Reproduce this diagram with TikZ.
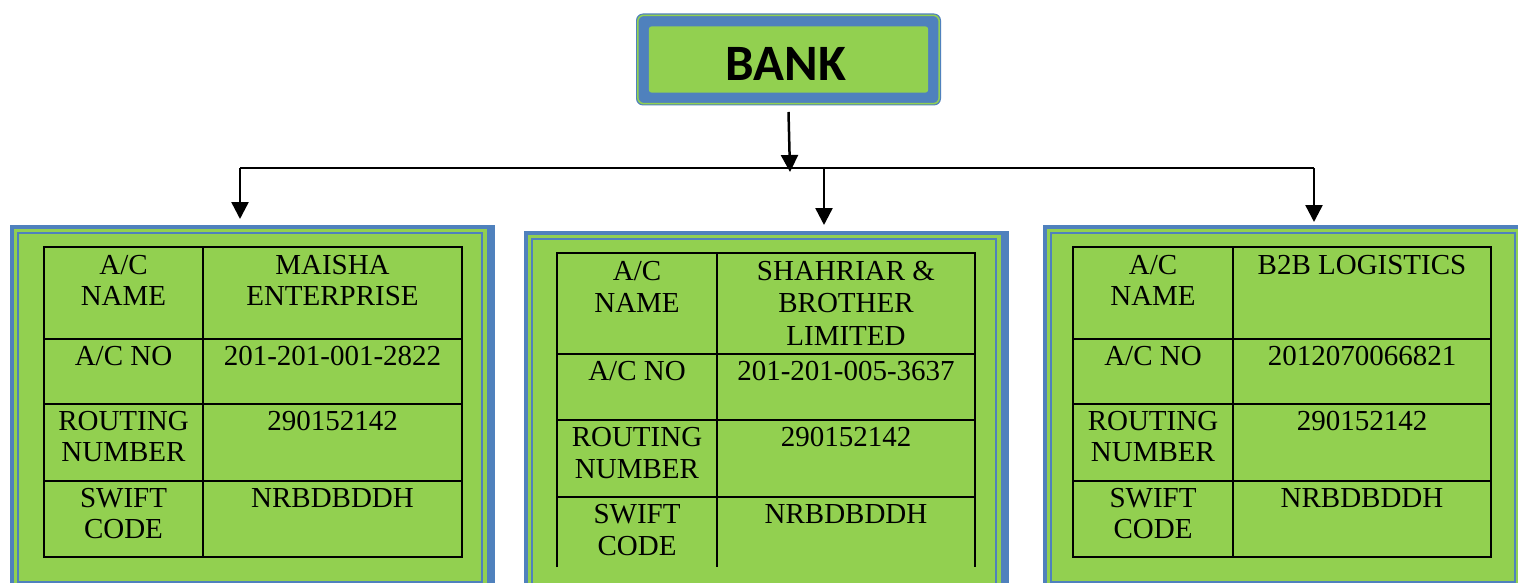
\documentclass[tikz,border=0pt]{standalone}
\usepackage{fontspec}
\setmainfont{Liberation Serif}
\newfontfamily\bankfont{Carlito}
\usetikzlibrary{arrows.meta,calc}
\definecolor{pgreen}{RGB}{146,208,80}
\definecolor{pblue}{RGB}{79,129,189}
\begin{document}
\begin{tikzpicture}[x=1pt,y=-1pt,
  panel/.style={fill=pblue,draw=none,inner sep=0,anchor=north west},
  grid/.style={line width=2.5pt,black},
  cell/.style={font=\fontsize{29}{31}\selectfont,align=center,inner sep=0,anchor=north},
  cellm/.style={cell,font=\fontsize{29}{32.5}\selectfont},
  arr/.style={line width=2.5pt,-{Triangle[width=17pt,length=17pt]}},
  link/.style={line width=2.5pt}]
\useasboundingbox (0,0) rectangle (1518,583);
\clip (0,0) rectangle (1518,583);
\fill[white] (0,0) rectangle (1518,583);

% BANK box
\node[fill=pblue,rounded corners=7pt,minimum width=305pt,minimum height=92pt,inner sep=0] (bank) at (788.5,59.5) {};
\draw[pgreen,line width=1.5pt,rounded corners=6pt] ($(bank.north west)+(2,2)$) rectangle ($(bank.south east)+(-2,-2)$);
\fill[pgreen,rounded corners=3pt] ($(bank.north west)+(13,13)$) rectangle ($(bank.south east)+(-13,-13)$);
\node[font=\bankfont\bfseries\fontsize{51}{51}\selectfont,inner sep=0] (banktext) at (786,64) {BANK};

% panels
\node[panel,minimum width=485pt,minimum height=370pt] (box1) at (10,225) {};
\node[panel,minimum width=485pt,minimum height=370pt] (box2) at (524,231) {};
\node[panel,minimum width=485pt,minimum height=370pt] (box3) at (1043,225) {};
\foreach \b in {box1,box2,box3}{
  \fill[pgreen] ($(\b.north west)+(4,4)$) rectangle ($(\b.south east)+(-8,-8)$);
  \draw[pblue,line width=2pt] ($(\b.north west)+(8,8)$) rectangle ($(\b.south east)+(-13,-13)$);
  \fill[pgreen] ($(\b.north west)+(9,9)$) rectangle ($(\b.south east)+(-14,-14)$);
}

% connectors
\coordinate (j) at (790,168);
\coordinate (h1) at (240,168);
\coordinate (h2) at (824,168);
\coordinate (h3) at (1314,168);
\draw[arr] (bank.south |- 0,112) -- ($(j)+(0,4)$);
\draw[link] (h1) -- (h3);
\draw[arr] (h1) -- ($(h1 |- box1.north)+(0,-6)$);
\draw[arr] (h2) -- ($(h2 |- box2.north)+(0,-6)$);
\draw[arr] (h3) -- ($(h3 |- box3.north)+(0,-3)$);

% table 1
\draw[grid] (44,247) rectangle (462,557);
\draw[grid] (203,247) -- (203,557);
\foreach \y in {339,404,481} \draw[grid] (44,\y) -- (462,\y);
\node[cell] (t1a) at (123.5,255) {A/C\\NAME};
\node[cell] (t1b) at (332.5,255) {MAISHA\\ENTERPRISE};
\node[cell] (t1c) at (123.5,346) {A/C NO};
\node[cell] (t1d) at (332.5,346) {201-201-001-2822};
\node[cell] (t1e) at (123.5,411) {ROUTING\\NUMBER};
\node[cell] (t1f) at (332.5,411) {290152142};
\node[cell] (t1g) at (123.5,488) {SWIFT\\CODE};
\node[cell] (t1h) at (332.5,488) {NRBDBDDH};

% table 2
\draw[grid] (557,567) -- (557,253) -- (975,253) -- (975,567);
\draw[grid] (717,253) -- (717,567);
\foreach \y in {354,420,497} \draw[grid] (557,\y) -- (975,\y);
\node[cellm] (t2a) at (637,261) {A/C\\NAME};
\node[cellm] (t2b) at (846,261) {SHAHRIAR \&\\BROTHER\\LIMITED};
\node[cellm] (t2c) at (637,361) {A/C NO};
\node[cellm] (t2d) at (846,361) {201-201-005-3637};
\node[cellm] (t2e) at (637,427) {ROUTING\\NUMBER};
\node[cellm] (t2f) at (846,427) {290152142};
\node[cellm] (t2g) at (637,504) {SWIFT\\CODE};
\node[cellm] (t2h) at (846,504) {NRBDBDDH};

% table 3
\draw[grid] (1073,247) rectangle (1491,557);
\draw[grid] (1233,247) -- (1233,557);
\foreach \y in {339,404,481} \draw[grid] (1073,\y) -- (1491,\y);
\node[cell] (t3a) at (1153,255) {A/C\\NAME};
\node[cell] (t3b) at (1362,255) {B2B LOGISTICS};
\node[cell] (t3c) at (1153,346) {A/C NO};
\node[cell] (t3d) at (1362,346) {2012070066821};
\node[cell] (t3e) at (1153,411) {ROUTING\\NUMBER};
\node[cell] (t3f) at (1362,411) {290152142};
\node[cell] (t3g) at (1153,488) {SWIFT\\CODE};
\node[cell] (t3h) at (1362,488) {NRBDBDDH};
\end{tikzpicture}
\end{document}
